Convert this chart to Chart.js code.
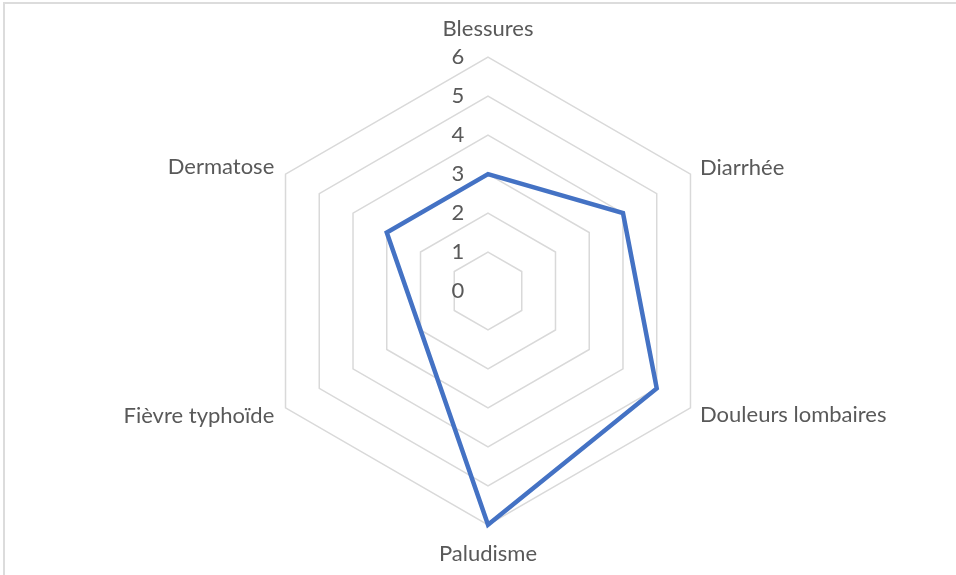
<!DOCTYPE html>
<html>
<head>
<meta charset="utf-8">
<script src="https://cdn.jsdelivr.net/npm/chart.js@4/dist/chart.umd.min.js"></script>
<style>
  html, body { margin: 0; padding: 0; background: #fff; overflow: hidden; }
  #wrap { position: relative; width: 956px; height: 575px; }
  #frame { position: absolute; left: 3px; top: 2px; width: 1000px; height: 1000px; border: 2px solid #dcdcdc; box-sizing: border-box; }
  canvas { position: absolute; left: 0; top: 0; }
</style>
</head>
<body>
<div id="wrap">
  <div id="frame"></div>
  <canvas id="radar" width="956" height="575"></canvas>
</div>
<script>
var categories = ['Blessures', 'Diarrhée', 'Douleurs lombaires', 'Paludisme', 'Fièvre typhoïde', 'Dermatose'];
var values = [3, 4, 5, 6, null, 3];
var tickValues = [0, 1, 2, 3, 4, 5, 6];

// spacing between the outer hexagon and each category label
var labelPadding = [27, 11, 11, 28, 13, 13];

var textColor = '#595959';
var fontFamily = 'Lato, "Open Sans", sans-serif';
var fontSize = 22;

// tick numbers sit to the left of the vertical axis, like in Excel
var tickLabels = {
  id: 'tickLabels',
  afterDraw: function (chart) {
    var scale = chart.scales.r;
    var c = chart.ctx;
    c.save();
    c.fillStyle = textColor;
    c.font = fontSize + 'px ' + fontFamily;
    c.textAlign = 'center';
    c.textBaseline = 'middle';
    tickValues.forEach(function (v) {
      var d = scale.getDistanceFromCenterForValue(v);
      c.fillText(String(v), scale.xCenter - 30, scale.yCenter - d);
    });
    c.restore();
  }
};

var ctx = document.getElementById('radar').getContext('2d');
var chart = new Chart(ctx, {
  type: 'radar',
  data: {
    labels: categories,
    datasets: [{
      label: 'Série1',
      data: values,
      borderColor: '#4472C4',
      borderWidth: 4.5,
      borderJoinStyle: 'miter',
      backgroundColor: 'rgba(0,0,0,0)',
      fill: false,
      pointRadius: 0,
      pointHoverRadius: 0,
      tension: 0,
      spanGaps: true
    }]
  },
  options: {
    responsive: false,
    animation: false,
    layout: { padding: { left: 20, right: 0, top: 28, bottom: 19 } },
    plugins: {
      legend: { display: false },
      tooltip: { enabled: false }
    },
    scales: {
      r: {
        min: 0,
        max: 6,
        beginAtZero: true,
        angleLines: { display: false },
        grid: { color: '#d9d9d9', lineWidth: 1.5 },
        ticks: { display: false, stepSize: 1 },
        pointLabels: {
          color: textColor,
          font: { family: fontFamily, size: fontSize, lineHeight: 0.1 },
          padding: function (c) { return labelPadding[c.index]; }
        }
      }
    }
  },
  plugins: [tickLabels]
});
</script>
</body>
</html>
